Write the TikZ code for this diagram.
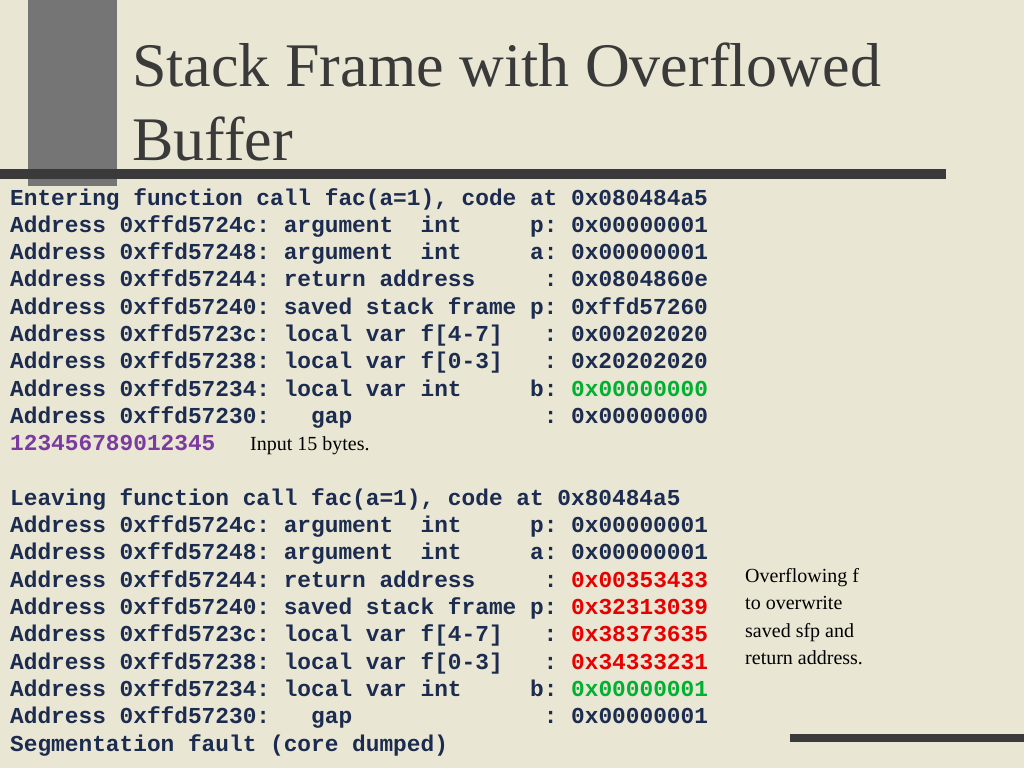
\documentclass[tikz,border=0pt]{standalone}
\usepackage{fontspec}
\setmainfont{Liberation Serif}
\setmonofont{Liberation Mono}
\definecolor{bg}{HTML}{E9E6D3}
\definecolor{bar}{HTML}{3A3A3A}
\definecolor{navy}{HTML}{1C2C50}
\definecolor{rd}{HTML}{E80000}
\definecolor{gr}{HTML}{00B030}
\definecolor{pu}{HTML}{7A3AA0}
\begin{document}
\begin{tikzpicture}[x=1pt,y=-1pt,
  code/.style={anchor=base west,inner sep=0,font=\ttfamily\bfseries\fontsize{22.8}{24}\selectfont,text=navy},
  note/.style={anchor=base west,inner sep=0,font=\fontsize{20}{22}\selectfont,text=black}]
\fill[bg] (0,0) rectangle (1024,768);
\useasboundingbox (0,0) rectangle (1024,768);
\fill[bar!70] (28,0) rectangle (117,186);
\fill[bar] (0,169) rectangle (946,179);
\fill[bar] (790,734) rectangle (1024,742);
\node[anchor=base west,inner sep=0,font=\fontsize{62}{64}\selectfont,text=bar] (t1) at (132,86) {Stack Frame with Overflowed};
\node[anchor=base west,inner sep=0,font=\fontsize{62}{64}\selectfont,text=bar] (t2) at (132,160) {Buffer};
\def\L#1#2{\node[code] (l#1) at (10,{205+27.3*#1}) {#2};}
\L{0}{Entering function call fac(a=1), code at 0x080484a5}
\L{1}{Address 0xffd5724c: argument~~int~~~~~p: 0x00000001}
\L{2}{Address 0xffd57248: argument~~int~~~~~a: 0x00000001}
\L{3}{Address 0xffd57244: return address~~~~~: 0x0804860e}
\L{4}{Address 0xffd57240: saved stack frame p: 0xffd57260}
\L{5}{Address 0xffd5723c: local var f[4-7]~~~: 0x00202020}
\L{6}{Address 0xffd57238: local var f[0-3]~~~: 0x20202020}
\L{7}{Address 0xffd57234: local var int~~~~~b: \textcolor{gr}{0x00000000}}
\L{8}{Address 0xffd57230:~~~gap~~~~~~~~~~~~~~: 0x00000000}
\L{9}{\textcolor{pu}{123456789012345}}
\node[note] (in) at (250,{205+27.3*9}) {Input 15 bytes.};
\L{11}{Leaving function call fac(a=1), code at 0x80484a5}
\L{12}{Address 0xffd5724c: argument~~int~~~~~p: 0x00000001}
\L{13}{Address 0xffd57248: argument~~int~~~~~a: 0x00000001}
\L{14}{Address 0xffd57244: return address~~~~~: \textcolor{rd}{0x00353433}}
\L{15}{Address 0xffd57240: saved stack frame p: \textcolor{rd}{0x32313039}}
\L{16}{Address 0xffd5723c: local var f[4-7]~~~: \textcolor{rd}{0x38373635}}
\L{17}{Address 0xffd57238: local var f[0-3]~~~: \textcolor{rd}{0x34333231}}
\L{18}{Address 0xffd57234: local var int~~~~~b: \textcolor{gr}{0x00000001}}
\L{19}{Address 0xffd57230:~~~gap~~~~~~~~~~~~~~: 0x00000001}
\L{20}{Segmentation fault (core dumped)}
\node[note] (n1) at (745,582) {Overflowing f};
\node[note] (n2) at (745,609) {to overwrite};
\node[note] (n3) at (745,637) {saved sfp and};
\node[note] (n4) at (745,664) {return address.};
\end{tikzpicture}
\end{document}
